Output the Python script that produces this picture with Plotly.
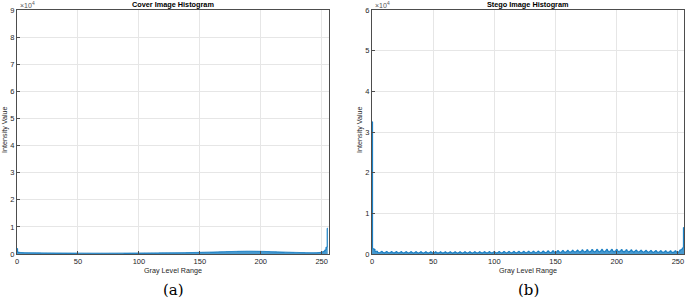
import plotly.graph_objects as go

gray_levels = list(range(256))

cover_counts = [
    2000, 700, 600, 560, 530, 510, 500, 490, 480, 470, 470, 460, 450, 450, 440, 440,
    430, 430, 420, 420, 410, 410, 400, 400, 400, 390, 390, 390, 380, 380, 380, 370,
    370, 370, 360, 360, 360, 350, 350, 350, 350, 340, 340, 340, 340, 330, 330, 330,
    330, 330, 320, 320, 320, 320, 320, 310, 310, 310, 310, 310, 310, 300, 300, 300,
    300, 300, 300, 300, 300, 300, 300, 300, 300, 300, 300, 300, 310, 310, 310, 310,
    310, 310, 310, 320, 320, 320, 320, 320, 330, 330, 330, 330, 340, 340, 340, 340,
    350, 350, 350, 360, 360, 360, 370, 370, 370, 380, 380, 380, 390, 390, 390, 400,
    400, 400, 410, 410, 410, 420, 420, 420, 430, 430, 430, 440, 440, 440, 450, 450,
    450, 460, 460, 470, 470, 480, 480, 490, 490, 500, 500, 510, 510, 520, 530, 540,
    550, 560, 570, 580, 590, 600, 610, 620, 630, 640, 650, 660, 670, 680, 690, 700,
    710, 720, 740, 750, 770, 780, 800, 810, 830, 840, 850, 870, 880, 890, 900, 910,
    920, 930, 940, 950, 960, 970, 980, 990, 1000, 1000, 1010, 1010, 1020, 1020, 1020, 1020,
    1020, 1020, 1010, 1010, 1000, 1000, 990, 980, 970, 960, 950, 940, 930, 910, 900, 880,
    870, 850, 840, 820, 810, 790, 780, 760, 750, 730, 720, 700, 690, 670, 660, 650,
    640, 620, 610, 600, 590, 580, 570, 560, 550, 540, 530, 520, 510, 500, 500, 490,
    490, 480, 480, 480, 480, 490, 500, 520, 550, 600, 680, 800, 1000, 1500, 2500, 9500,
]

stego_counts = [
    32500, 1300, 1200, 600, 700, 400, 300, 450, 650, 400, 280, 420, 620, 380, 270, 400,
    600, 380, 260, 400, 600, 370, 260, 390, 590, 370, 250, 390, 580, 360, 250, 380,
    580, 360, 250, 380, 570, 350, 240, 370, 570, 350, 240, 370, 560, 350, 240, 370,
    560, 340, 240, 360, 550, 340, 230, 360, 550, 340, 230, 360, 550, 340, 230, 360,
    550, 340, 230, 360, 550, 340, 230, 360, 550, 340, 240, 360, 560, 350, 240, 370,
    560, 350, 240, 370, 570, 350, 250, 370, 570, 360, 250, 380, 580, 360, 250, 380,
    590, 370, 260, 390, 600, 370, 260, 390, 610, 380, 270, 400, 620, 390, 270, 410,
    630, 390, 280, 410, 640, 400, 280, 420, 650, 410, 290, 430, 660, 420, 300, 440,
    680, 430, 300, 450, 700, 440, 310, 460, 720, 450, 320, 480, 740, 470, 340, 500,
    770, 490, 350, 520, 800, 510, 370, 540, 830, 530, 390, 560, 870, 560, 410, 590,
    900, 580, 430, 620, 940, 610, 450, 650, 980, 640, 470, 680, 1020, 670, 490, 710,
    1060, 700, 510, 740, 1100, 720, 530, 760, 1130, 740, 540, 780, 1150, 750, 550, 790,
    1150, 750, 550, 790, 1140, 740, 540, 780, 1120, 730, 530, 770, 1090, 710, 510, 750,
    1060, 690, 500, 730, 1020, 660, 480, 700, 980, 640, 460, 680, 940, 610, 440, 650,
    900, 590, 420, 620, 870, 560, 400, 600, 840, 540, 390, 580, 820, 530, 380, 560,
    800, 520, 370, 550, 790, 510, 360, 540, 800, 520, 380, 560, 1000, 1100, 1500, 6500,
]

x_tick_vals = [0, 50, 100, 150, 200, 250]
cover_y_ticks = [0, 1, 2, 3, 4, 5, 6, 7, 8, 9]
stego_y_ticks = [0, 1, 2, 3, 4, 5, 6]
y_scale = 10000

titles = ["Cover Image Histogram", "Stego Image Histogram"]
captions = ["(a)", "(b)"]

W, H = 685, 301
FILL = "rgba(0,114,189,0.72)"
EDGE = "#0072BD"
AX = "#4d4d4d"
GRID = "#e6e6e6"
FONT = "Liberation Sans, Arial, sans-serif"

fig = go.Figure()
for counts, xa, ya in [(cover_counts, "x", "y"), (stego_counts, "x2", "y2")]:
    fig.add_trace(go.Scatter(x=gray_levels, y=counts, mode="lines", line=dict(shape="hvh", color=EDGE, width=0.9),
                             fill="tozeroy", fillcolor=FILL, xaxis=xa, yaxis=ya, showlegend=False))

top = 1 - 10 / H
bot = 1 - 254 / H
dom1 = [17 / W, 329 / W]
dom2 = [372 / W, 684 / W]

def xax(dom, anchor, rng):
    return dict(domain=dom, anchor=anchor, range=rng, tickvals=x_tick_vals, automargin=False,
                ticklabeloverflow="allow",
                ticks="inside", ticklen=3, tickcolor=AX, showline=True, mirror=True,
                linecolor=AX, linewidth=1, showgrid=True, gridcolor=GRID, zeroline=False,
                tickfont=dict(size=7.5, color="#262626", family=FONT),
                title=dict(text="Gray Level Range", font=dict(size=7.2, color="#262626", family=FONT), standoff=2))

def yax(anchor, ticks):
    return dict(domain=[bot, top], anchor=anchor, range=[0, ticks[-1] * y_scale], automargin=False,
                ticklabeloverflow="allow",
                tickvals=[t * y_scale for t in ticks], ticktext=[str(t) for t in ticks],
                ticks="inside", ticklen=3, tickcolor=AX, showline=True, mirror=True,
                linecolor=AX, linewidth=1, showgrid=True, gridcolor=GRID, zeroline=False,
                tickfont=dict(size=7.5, color="#262626", family=FONT))

fig.update_layout(
    width=W, height=H, margin=dict(l=0, r=0, t=0, b=0, autoexpand=False),
    paper_bgcolor="white", plot_bgcolor="white",
    xaxis=xax(dom1, "y", [0, 256]), yaxis=yax("x", cover_y_ticks),
    xaxis2=xax(dom2, "y2", [0, 255]), yaxis2=yax("x2", stego_y_ticks),
)

ann = []
for dom, t, cap in [(dom1, titles[0], captions[0]), (dom2, titles[1], captions[1])]:
    cx = (dom[0] + dom[1]) / 2
    ann.append(dict(x=cx, y=1 - 5 / H, xref="paper", yref="paper", text="<b>" + t + "</b>",
                    showarrow=False, font=dict(size=7.3, color="#000", family=FONT), xanchor="center", yanchor="middle"))
    ann.append(dict(x=cx, y=1 - 290 / H, xref="paper", yref="paper", text=cap,
                    showarrow=False, font=dict(size=15, color="#000", family="DejaVu Serif, serif"),
                    xanchor="center", yanchor="middle"))
    ann.append(dict(x=dom[0] + 1 / W, y=1 - 5 / H, xref="paper", yref="paper", text="×10<sup>4</sup>",
                    showarrow=False, font=dict(size=7, color="#555", family=FONT), xanchor="left", yanchor="middle"))
    ann.append(dict(x=dom[0] - 12 / W, y=1 - 130 / H, xref="paper", yref="paper", text="Intensity Value",
                    textangle=-90, showarrow=False, font=dict(size=7.2, color="#262626", family=FONT),
                    xanchor="center", yanchor="middle"))
fig.update_layout(annotations=ann)

fig.write_html("out.html", config={"displayModeBar": False},
               post_script="document.body.style.margin='0';document.body.style.padding='0';")
